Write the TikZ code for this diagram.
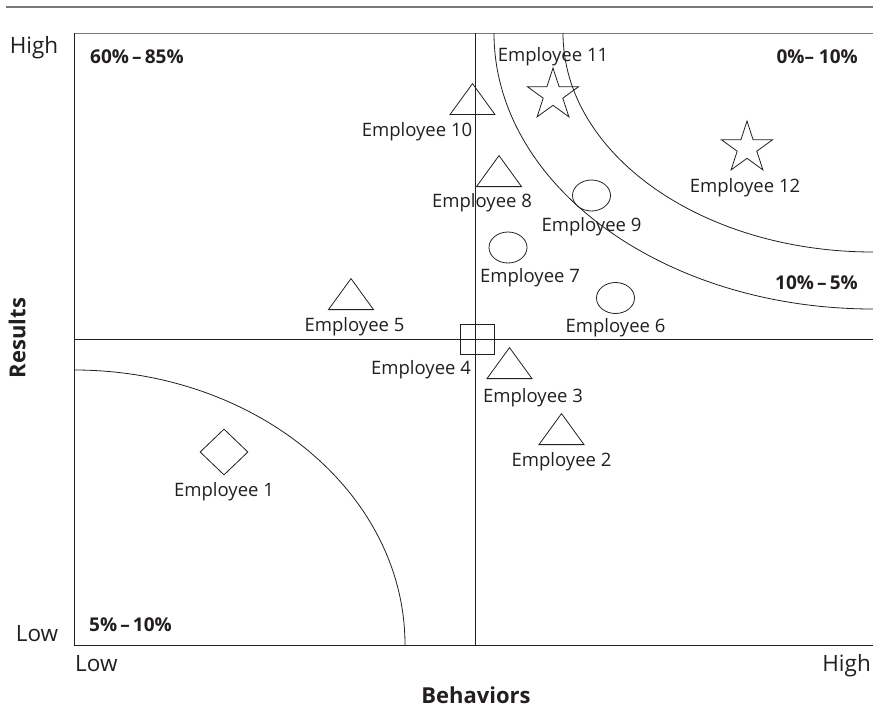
\documentclass[tikz,border=0pt]{standalone}
\usepackage{fontspec}
\setmainfont{Open Sans}
\usetikzlibrary{positioning,shapes.geometric}
\definecolor{inkline}{HTML}{231F20}
\definecolor{rulegray}{HTML}{77787B}
\tikzstyle{marker} = [draw=inkline, line width=0.8pt, inner sep=0pt]
\tikzstyle{trimark} = [marker, isosceles triangle, isosceles triangle stretches, shape border rotate=90, minimum width=45pt, minimum height=31pt, anchor=south]
\tikzstyle{ovalmark} = [marker, ellipse, minimum width=38pt, minimum height=31pt]
\tikzstyle{starmark} = [marker, star, star points=5, star point ratio=2.618, minimum size=54pt]
\tikzstyle{diamondmark} = [marker, diamond, minimum width=48pt, minimum height=46pt]
\tikzstyle{squaremark} = [marker, rectangle, minimum width=34pt, minimum height=30pt]
\tikzstyle{emplabel} = [text=inkline, inner sep=0pt, font=\fontsize{18.5}{21}\selectfont]
\tikzstyle{axislabel} = [text=inkline, inner sep=0pt, font=\fontsize{22.5}{26}\selectfont]
\tikzstyle{axistitle} = [text=inkline, inner sep=0pt, font=\bfseries\fontsize{22}{26}\selectfont]
\tikzstyle{sharelabel} = [text=inkline, inner sep=0pt, font=\bfseries\fontsize{19}{22}\selectfont]
\tikzstyle{gridline} = [draw=inkline, line width=1pt]
\tikzstyle{bandline} = [draw=inkline, line width=0.8pt]

\begin{document}
\begin{tikzpicture}[x=1pt, y=-1pt]
		\useasboundingbox (0,0) rectangle (873,712);
		% frame and quadrants
		\draw [rulegray, line width=2pt] (6,7) -- (873,7);
		\draw [rulegray, line width=1pt] (74,33) -- (873,33);
		\draw [gridline] (74,33) -- (74,645) -- (873,645);
		\draw [gridline] (475,33) -- (475,645);
		\draw [gridline] (74,339) -- (873,339);
		% rating bands
		\begin{scope}
			\clip (74,33) rectangle (873,645);
			\draw [bandline] (74,645) ellipse [x radius=331, y radius=275];
			\draw [bandline] (873,33) ellipse [x radius=379, y radius=276];
			\draw [bandline] (873,33) ellipse [x radius=310, y radius=219];
		\end{scope}
		% axes
		\node (yhigh) [axislabel, anchor=base] at (34,53) {High};
		\node (ylow) [axislabel, anchor=base] at (37,641) {Low};
		\node (xlow) [axislabel, anchor=base west] at (75,671) {Low};
		\node (xhigh) [axislabel, anchor=base east] at (871,671) {High};
		\node (xtitle) [axistitle, anchor=base] at (476,703) {Behaviors};
		\node (ytitle) [axistitle, rotate=90] at (17,338) {Results};
		% shares
		\node (topleft) [sharelabel, anchor=base west] at (90,63) {60\%\,–\,85\%};
		\node (topright) [sharelabel, anchor=base east] at (858,63) {0\%–\ 10\%};
		\node (midright) [sharelabel, anchor=base east] at (858,289) {10\%\,–\,5\%};
		\node (bottomleft) [sharelabel, anchor=base west] at (89,631) {5\%\,–\,10\%};
		% employees
		\node (e1) [diamondmark] at (224,452) {};
		\node (e2) [trimark] at (561.5,445) {};
		\node (e3) [trimark] at (509.5,379) {};
		\node (e4) [squaremark] at (477,339) {};
		\node (e5) [trimark] at (351,310) {};
		\node (e6) [ovalmark] at (615.5,298) {};
		\node (e7) [ovalmark] at (508,247.5) {};
		\node (e8) [trimark] at (499,187) {};
		\node (e9) [ovalmark] at (591.5,195.5) {};
		\node (e10) [trimark] at (472.5,115) {};
		\node (e11) [starmark] at (553,95) {};
		\node (e12) [starmark] at (747,148) {};
		\node (l1) [emplabel, below=7pt of e1] {Employee 1};
		\node (l2) [emplabel, below=7pt of e2] {Employee 2};
		\node (l3) [emplabel, below=9pt of e3, xshift=23.5pt] {Employee 3};
		\node (l4) [emplabel, below=6pt of e4, xshift=-56pt] {Employee 4};
		\node (l5) [emplabel, below=7pt of e5, xshift=3.5pt] {Employee 5};
		\node (l6) [emplabel, below=4pt of e6] {Employee 6};
		\node (l7) [emplabel, below=5pt of e7, xshift=22pt] {Employee 7};
		\node (l8) [emplabel, below=6pt of e8, xshift=-17pt] {Employee 8};
		\node (l9) [emplabel, below=6pt of e9] {Employee 9};
		\node (l10) [emplabel, below=7pt of e10, xshift=-55.5pt] {Employee 10};
		\node (l11) [emplabel, above=1pt of e11] {Employee 11};
		\node (l12) [emplabel, below=19pt of e12, xshift=-2pt] {Employee 12};
	\end{tikzpicture}
\end{document}
